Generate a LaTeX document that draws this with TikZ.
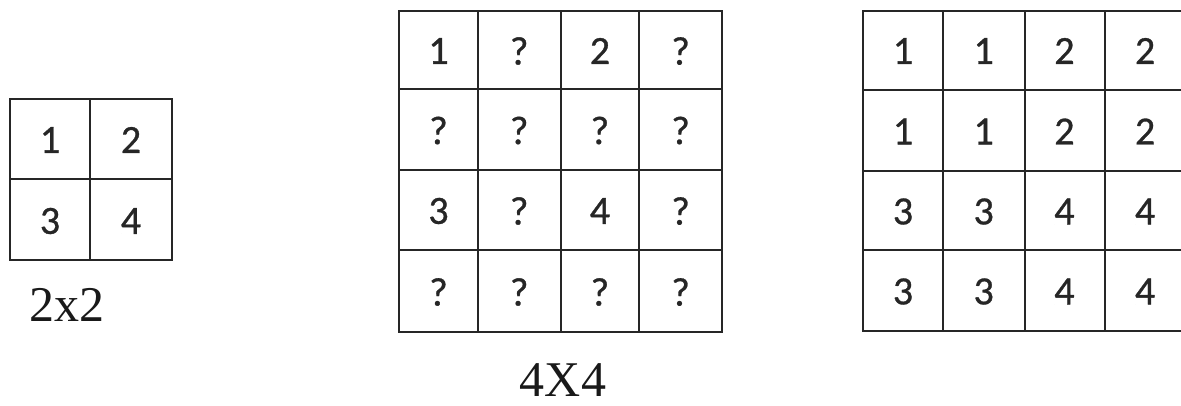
\documentclass[tikz,border=0pt]{standalone}
\usepackage{fontspec}
\setmainfont{Liberation Serif}
\newfontfamily\cellfont[FakeBold=0.8]{Carlito}
\begin{document}
\begin{tikzpicture}[x=1pt,y=-1pt,
  gridline/.style={line width=1.8pt, draw=black!85},
  cell/.style={font=\cellfont\fontsize{40}{40}\selectfont, text=black!85, inner sep=0pt},
  caption/.style={font=\fontsize{50}{50}\selectfont, text=black!90, inner sep=0pt}]
\useasboundingbox (0,0) rectangle (1181,406);
% small 2x2 grid
\draw[gridline] (10,99) rectangle (172,260);
\draw[gridline] (90,99) -- (90,260);
\draw[gridline] (10,179) -- (172,179);
\node[cell] (s11) at (50,140) {1};
\node[cell] (s12) at (131,140) {2};
\node[cell] (s21) at (50,221) {3};
\node[cell] (s22) at (131,221) {4};
\node[caption] (lab2) at (67,305) {2x2};
% 4x4 grid with unknowns
\draw[gridline] (399,11) rectangle (722,332);
\foreach \x in {478,561,639} \draw[gridline] (\x,11) -- (\x,332);
\foreach \y in {89,170,250} \draw[gridline] (399,\y) -- (722,\y);
\foreach \t [count=\i] in {1,?,2,?} \node[cell] (a1\i) at ({438.5+(\i-1)*80.7},51) {\t};
\foreach \t [count=\i] in {?,?,?,?} \node[cell] (a2\i) at ({438.5+(\i-1)*80.7},130.5) {\t};
\foreach \t [count=\i] in {3,?,4,?} \node[cell] (a3\i) at ({438.5+(\i-1)*80.7},211) {\t};
\foreach \t [count=\i] in {?,?,?,?} \node[cell] (a4\i) at ({438.5+(\i-1)*80.7},292) {\t};
\node[caption] (lab4) at (563,380) {4X4};
% filled grid (cut at right edge)
\draw[gridline] (1190,11) -- (863,11) -- (863,331) -- (1190,331);
\foreach \x in {943,1025,1105} \draw[gridline] (\x,11) -- (\x,331);
\foreach \y in {90,171,250} \draw[gridline] (863,\y) -- (1190,\y);
\foreach \t [count=\i] in {1,1,2,2} \node[cell] (b1\i) at ({903+(\i-1)*80.7},51) {\t};
\foreach \t [count=\i] in {1,1,2,2} \node[cell] (b2\i) at ({903+(\i-1)*80.7},131.5) {\t};
\foreach \t [count=\i] in {3,3,4,4} \node[cell] (b3\i) at ({903+(\i-1)*80.7},211.5) {\t};
\foreach \t [count=\i] in {3,3,4,4} \node[cell] (b4\i) at ({903+(\i-1)*80.7},291.5) {\t};
\end{tikzpicture}
\end{document}
